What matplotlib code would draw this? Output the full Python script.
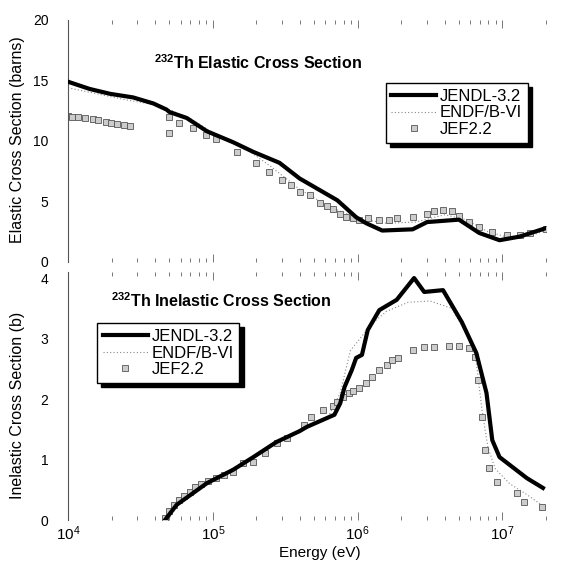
import numpy as np
import matplotlib
matplotlib.use("Agg")
import matplotlib.pyplot as plt
from matplotlib.ticker import LogLocator, NullFormatter

plt.rcParams['font.family'] = ['Liberation Sans', 'DejaVu Sans']
plt.rcParams['mathtext.fontset'] = 'custom'
plt.rcParams['mathtext.rm'] = 'Liberation Sans'
plt.rcParams['mathtext.bf'] = 'Liberation Sans:bold'

# --- elastic cross section (barns), energies as log10(E/eV) ---
el_jendl_logE = [4.0, 4.15, 4.29, 4.45, 4.59, 4.68, 4.70, 4.82, 4.96, 5.14, 5.28, 5.46,
                 5.60, 5.86, 5.99, 6.06, 6.17, 6.38, 6.48, 6.70, 6.84, 6.98, 7.12, 7.30]
el_jendl = [14.9, 14.3, 13.9, 13.6, 13.1, 12.6, 12.4, 11.9, 10.8, 9.9, 9.1, 8.2,
            6.9, 5.1, 3.7, 3.2, 2.6, 2.7, 3.3, 3.5, 2.4, 1.8, 2.1, 2.8]

el_endf_logE = [4.0, 4.2, 4.4, 4.6, 4.7, 4.85, 5.0, 5.2, 5.4, 5.6, 5.8, 6.0, 6.2, 6.4,
                6.6, 6.75, 6.9, 7.05, 7.2, 7.3]
el_endf = [14.4, 13.9, 13.4, 13.0, 12.6, 11.8, 10.7, 9.6, 7.9, 6.0, 4.6, 3.6, 3.2, 3.3,
           3.9, 3.5, 2.5, 2.0, 2.2, 2.6]

el_jef_logE = [4.0, 4.03, 4.07, 4.12, 4.17, 4.21, 4.26, 4.30, 4.34, 4.39, 4.43,
               4.70, 4.70, 4.77, 4.86, 4.95, 5.02, 5.17, 5.30, 5.39, 5.48, 5.54, 5.60,
               5.67, 5.74, 5.79, 5.83, 5.88, 5.92, 5.97, 6.01, 6.07, 6.15, 6.22, 6.27,
               6.38, 6.48, 6.53, 6.59, 6.65, 6.70, 6.77, 6.84, 6.93, 7.03, 7.12, 7.19, 7.30]
el_jef = [12.1, 12.0, 12.0, 11.9, 11.8, 11.7, 11.6, 11.5, 11.4, 11.3, 11.2,
          12.0, 10.7, 11.5, 11.1, 10.5, 10.2, 9.1, 8.2, 7.4, 6.8, 6.4, 5.8,
          5.5, 4.9, 4.6, 4.4, 4.0, 3.7, 3.6, 3.5, 3.6, 3.5, 3.5, 3.6,
          3.7, 4.0, 4.2, 4.3, 4.2, 3.8, 3.3, 2.9, 2.5, 2.2, 2.2, 2.4, 2.7]

# --- inelastic cross section (b) ---
in_jendl_logE = [4.67, 4.75, 4.96, 5.14, 5.28, 5.44, 5.60, 5.65, 5.84, 5.88, 5.91, 5.96,
                 5.99, 6.03, 6.07, 6.15, 6.27, 6.39, 6.46, 6.59, 6.72, 6.82, 6.89, 6.93,
                 6.98, 7.17, 7.28]
in_jendl = [0.0, 0.25, 0.61, 0.83, 1.04, 1.29, 1.47, 1.54, 1.74, 1.93, 2.2, 2.48,
            2.68, 2.73, 3.14, 3.47, 3.64, 4.0, 3.77, 3.80, 3.27, 2.76, 2.10, 1.32,
            1.04, 0.69, 0.53]

in_endf_logE = [4.69, 4.8, 5.0, 5.2, 5.4, 5.6, 5.8, 5.88, 5.95, 6.0, 6.1, 6.2, 6.35,
                6.5, 6.65, 6.75, 6.82, 6.86, 6.9, 6.95, 7.05, 7.15, 7.3]
in_endf = [0.0, 0.4, 0.68, 0.93, 1.25, 1.47, 1.72, 2.1, 2.8, 2.95, 3.25, 3.45, 3.6,
           3.62, 3.5, 3.1, 2.6, 1.8, 1.2, 0.85, 0.6, 0.45, 0.2]

in_jef_logE = [4.67, 4.70, 4.73, 4.77, 4.80, 4.84, 4.88, 4.92, 4.97, 5.02, 5.08, 5.14,
               5.21, 5.28, 5.36, 5.44, 5.51, 5.63, 5.68, 5.76, 5.83, 5.86, 5.90, 5.94,
               5.97, 6.01, 6.06, 6.10, 6.15, 6.20, 6.24, 6.28, 6.38, 6.46, 6.53, 6.63,
               6.70, 6.77, 6.81, 6.83, 6.86, 6.88, 6.91, 6.96, 7.10, 7.15, 7.27]
in_jef = [0.03, 0.15, 0.25, 0.33, 0.40, 0.47, 0.55, 0.60, 0.65, 0.70, 0.74, 0.79,
          0.94, 0.96, 1.10, 1.27, 1.36, 1.57, 1.70, 1.82, 1.88, 1.95, 2.03, 2.10,
          2.14, 2.18, 2.26, 2.36, 2.48, 2.56, 2.64, 2.68, 2.81, 2.86, 2.86, 2.88,
          2.88, 2.84, 2.70, 2.31, 1.70, 1.16, 0.86, 0.63, 0.45, 0.30, 0.21]

labels = ["JENDL-3.2", "ENDF/B-VI", "JEF2.2"]

fig = plt.figure(figsize=(5.64, 5.62), dpi=100)
W, H = 564, 562
ax1 = fig.add_axes([68 / W, 1 - 262 / H, 478 / W, 242 / H])
ax2 = fig.add_axes([68 / W, 1 - 520 / H, 478 / W, 248 / H])


def draw(ax, xj, yj, xe, ye, xf, yf):
    ax.plot(10 ** np.array(xj), yj, color='black', lw=3, label=labels[0], zorder=3)
    ax.plot(10 ** np.array(xe), ye, color='#888888', lw=0.8, ls=(0, (1, 2)),
            label=labels[1], zorder=2)
    ax.plot(10 ** np.array(xf), yf, ls='none', marker='s', ms=4, mfc='#cccccc',
            mec='#555555', mew=0.6, label=labels[2], zorder=2)
    ax.set_xscale('log')
    ax.set_xlim(1e4, 2e7)
    for s in ['top', 'right', 'bottom']:
        ax.spines[s].set_visible(False)
    ax.spines['left'].set_color('#555555')
    ax.spines['left'].set_linewidth(0.8)
    ax.spines['left'].set_linestyle((0, (4, 1)))
    ax.xaxis.set_major_locator(LogLocator(base=10))
    ax.xaxis.set_minor_locator(LogLocator(base=10, subs=np.arange(2, 10)))
    ax.xaxis.set_minor_formatter(NullFormatter())
    ax.tick_params(axis='x', which='both', direction='in', top=True, bottom=True,
                   color='#777777', width=0.7)
    ax.tick_params(axis='x', which='major', length=6)
    ax.tick_params(axis='x', which='minor', length=3)
    ax.tick_params(axis='y', length=0, pad=14, labelsize=10)


def add_legend(ax, loc, anchor):
    leg = ax.legend(loc=loc, bbox_to_anchor=anchor, borderaxespad=0, frameon=True,
                    fancybox=False, shadow={'color': 'black', 'alpha': 1, 'ox': 3, 'oy': -3},
                    edgecolor='black', fontsize=12, handlelength=2.7, borderpad=0.35,
                    labelspacing=0.1, handletextpad=0.2)
    leg.get_frame().set_linewidth(1.0)


draw(ax1, el_jendl_logE, el_jendl, el_endf_logE, el_endf, el_jef_logE, el_jef)
ax1.set_ylim(0, 20)
ax1.set_yticks([0, 5, 10, 15, 20])
ax1.tick_params(axis='x', labelbottom=False)
ax1.text(0.398, 0.822, r'$^{\mathbf{232}}$Th Elastic Cross Section', transform=ax1.transAxes,
         ha='center', va='center', fontsize=11.5, fontweight='bold')
add_legend(ax1, 'upper right', (0.962, 0.74))

draw(ax2, in_jendl_logE, in_jendl, in_endf_logE, in_endf, in_jef_logE, in_jef)
ax2.set_ylim(0, 4.1)
ax2.set_yticks([0, 1, 2, 3, 4])
ax2.tick_params(axis='x', which='major', pad=3, labelsize=11)
ax2.text(0.32, 0.883, r'$^{\mathbf{232}}$Th Inelastic Cross Section', transform=ax2.transAxes,
         ha='center', va='center', fontsize=11.5, fontweight='bold')
add_legend(ax2, 'upper left', (0.061, 0.794))

fig.text(18 / W, 1 - 140 / H, 'Elastic Cross Section (barns)', rotation=90,
         ha='center', va='center', fontsize=11.5)
fig.text(18 / W, 1 - 405 / H, 'Inelastic Cross Section (b)', rotation=90,
         ha='center', va='center', fontsize=11.5)
fig.text(320 / W, 1 - 553 / H, 'Energy (eV)', ha='center', va='center', fontsize=11)

fig.savefig('out.png', dpi=100)
